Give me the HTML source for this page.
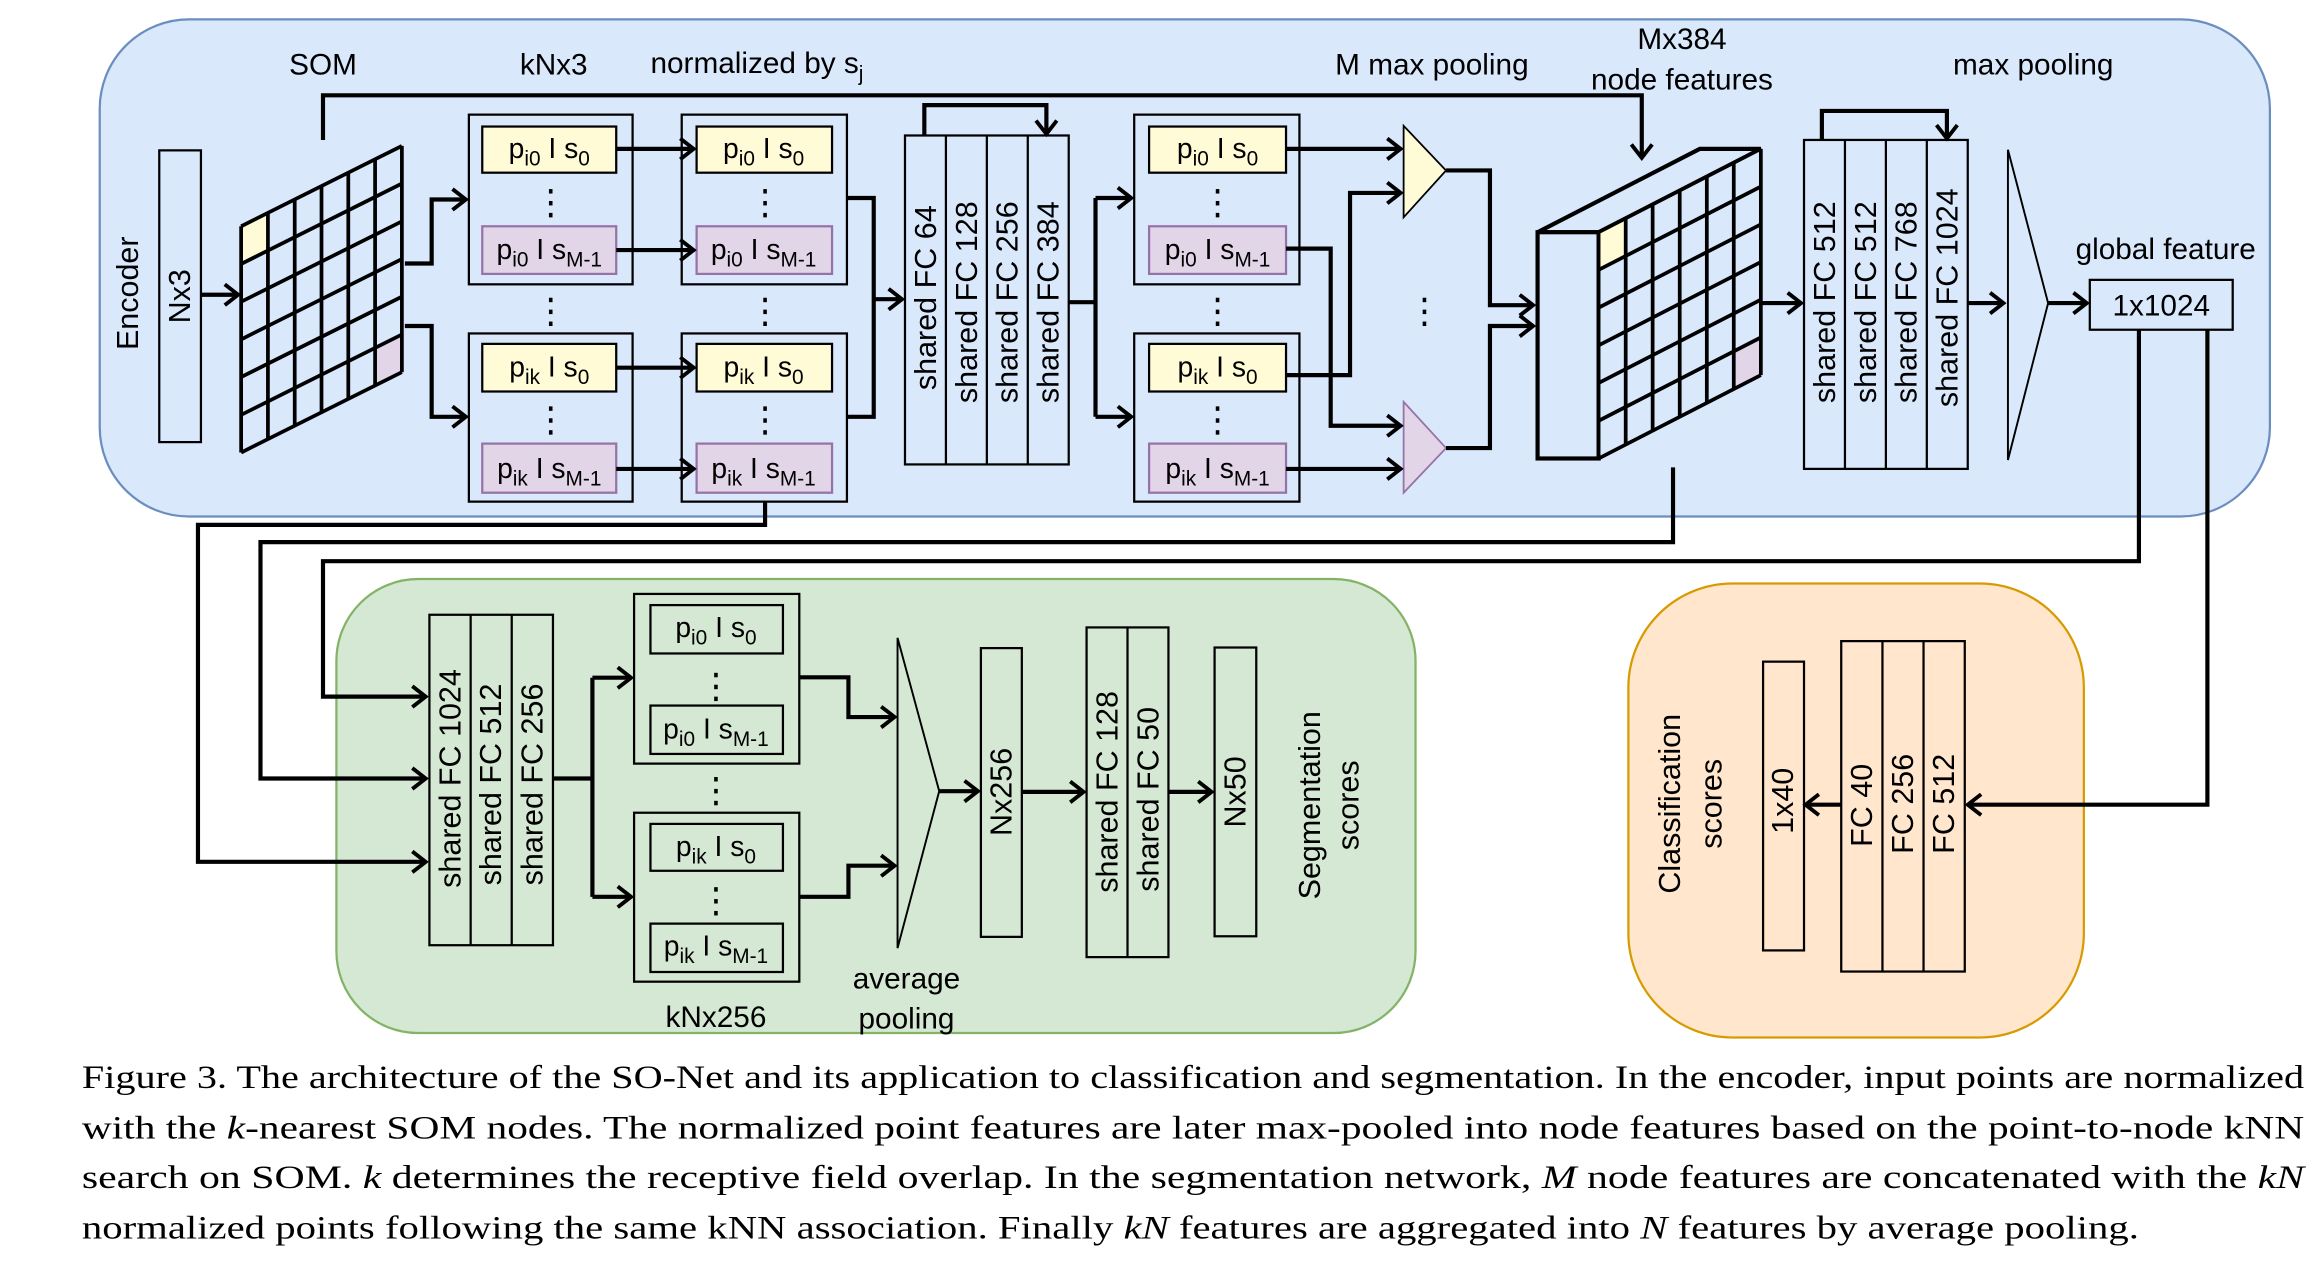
<!DOCTYPE html>
<html><head><meta charset="utf-8"><style>
html,body{margin:0;padding:0;background:#fff;}
svg{display:block;}
.t{font-family:"Liberation Sans",sans-serif;font-size:20px;fill:#000;}
.v{font-family:"Liberation Sans",sans-serif;font-size:20.5px;fill:#000;}
.c{font-family:"Liberation Serif","Times New Roman",serif;font-size:22px;fill:#000;}
.p{font-family:"Liberation Sans",sans-serif;font-size:19px;fill:#000;}
.ln{fill:none;stroke:#000;stroke-width:2.8;}
.bx{fill:none;stroke:#000;stroke-width:1.5;}
</style></head><body>
<svg width="2322" height="1266" viewBox="0 0 1560 850.5" xmlns="http://www.w3.org/2000/svg">
<defs>
<marker id="a" markerUnits="userSpaceOnUse" markerWidth="14" markerHeight="16" refX="11" refY="8" orient="auto">
<path d="M2,1 L11,8 L2,15" fill="none" stroke="#000" stroke-width="2.6"/>
</marker>
<g id="dt"><rect x="-1.2" y="0" width="2.4" height="3"/><rect x="-1.2" y="8" width="2.4" height="3"/><rect x="-1.2" y="16" width="2.4" height="3"/></g>
</defs>
<rect width="1560" height="850.5" fill="#fff"/>
<rect x="67" y="13" width="1458" height="334" rx="60" fill="#dae8fc" stroke="#6c8ebf" stroke-width="1.5"/>
<rect x="226" y="389" width="725" height="305" rx="55" fill="#d5e8d4" stroke="#82b366" stroke-width="1.5"/>
<rect x="1094" y="392" width="306" height="305" rx="70" fill="#ffe6cc" stroke="#d79b00" stroke-width="1.5"/>

<text class="t" x="217" y="50" text-anchor="middle">SOM</text>
<text class="t" x="372" y="50" text-anchor="middle">kNx3</text>
<text class="t" x="437" y="49">normalized by s<tspan font-size="14" dy="5">j</tspan></text>
<text class="t" x="962" y="50" text-anchor="middle">M max pooling</text>
<text class="t" x="1130" y="33" text-anchor="middle">Mx384</text>
<text class="t" x="1130" y="60" text-anchor="middle">node features</text>
<text class="t" x="1366" y="50" text-anchor="middle">max pooling</text>
<text class="t" x="1455" y="174" text-anchor="middle">global feature</text>
<text class="v" transform="translate(86,197) rotate(-90)" text-anchor="middle" dominant-baseline="central">Encoder</text>

<rect class="bx" x="107" y="101" width="28" height="196"/>
<text class="v" transform="translate(121,199) rotate(-90)" text-anchor="middle" dominant-baseline="central">Nx3</text>
<path class="ln" d="M135,198 H160" marker-end="url(#a)"/>

<polygon points="162,152 180,143 180,168.3 162,177.3" fill="#fffbd6"/>
<polygon points="252,233.7 270,224.7 270,250 252,259" fill="#e1d5e7"/>
<g stroke="#000" stroke-width="2.5" fill="none">
<path d="M162,152V304M180,143V295M198,134V286M216,125V277M234,116V268M252,107V259M270,98V250"/>
<path d="M162,152L270,98M162,177.3L270,123.3M162,202.7L270,148.7M162,228L270,174M162,253.3L270,199.3M162,278.7L270,224.7M162,304L270,250"/>
</g>
<path class="ln" d="M272,177 H290 V134 H313" marker-end="url(#a)"/>
<path class="ln" d="M272,219 H290 V280 H313" marker-end="url(#a)"/>

<g>
<rect class="bx" x="315" y="77" width="110" height="114"/>
<rect class="bx" x="315" y="224" width="110" height="113"/>
<rect class="bx" x="458" y="77" width="111" height="114"/>
<rect class="bx" x="458" y="224" width="111" height="113"/>
<rect class="bx" x="762" y="77" width="111" height="114"/>
<rect class="bx" x="762" y="224" width="111" height="113"/>
</g>
<g stroke-width="1.5">
<rect x="324" y="85" width="90" height="31" fill="#fffbd6" stroke="#000"/>
<rect x="324" y="152" width="90" height="32" fill="#e1d5e7" stroke="#9673a6"/>
<rect x="324" y="231" width="90" height="32" fill="#fffbd6" stroke="#000"/>
<rect x="324" y="298" width="90" height="33" fill="#e1d5e7" stroke="#9673a6"/>
<rect x="468" y="85" width="91" height="31" fill="#fffbd6" stroke="#000"/>
<rect x="468" y="152" width="91" height="32" fill="#e1d5e7" stroke="#9673a6"/>
<rect x="468" y="231" width="91" height="32" fill="#fffbd6" stroke="#000"/>
<rect x="468" y="298" width="91" height="33" fill="#e1d5e7" stroke="#9673a6"/>
<rect x="772" y="85" width="92" height="31" fill="#fffbd6" stroke="#000"/>
<rect x="772" y="152" width="92" height="32" fill="#e1d5e7" stroke="#9673a6"/>
<rect x="772" y="231" width="92" height="32" fill="#fffbd6" stroke="#000"/>
<rect x="772" y="298" width="92" height="33" fill="#e1d5e7" stroke="#9673a6"/>
</g>
<g class="p" text-anchor="middle">
<text x="369" y="106">p<tspan font-size="14" dy="5">i0</tspan><tspan dy="-5"> I s</tspan><tspan font-size="14" dy="5">0</tspan></text>
<text x="369" y="174">p<tspan font-size="14" dy="5">i0</tspan><tspan dy="-5"> I s</tspan><tspan font-size="14" dy="5">M-1</tspan></text>
<text x="369" y="253">p<tspan font-size="14" dy="5">ik</tspan><tspan dy="-5"> I s</tspan><tspan font-size="14" dy="5">0</tspan></text>
<text x="369" y="321">p<tspan font-size="14" dy="5">ik</tspan><tspan dy="-5"> I s</tspan><tspan font-size="14" dy="5">M-1</tspan></text>
<text x="513" y="106">p<tspan font-size="14" dy="5">i0</tspan><tspan dy="-5"> I s</tspan><tspan font-size="14" dy="5">0</tspan></text>
<text x="513" y="174">p<tspan font-size="14" dy="5">i0</tspan><tspan dy="-5"> I s</tspan><tspan font-size="14" dy="5">M-1</tspan></text>
<text x="513" y="253">p<tspan font-size="14" dy="5">ik</tspan><tspan dy="-5"> I s</tspan><tspan font-size="14" dy="5">0</tspan></text>
<text x="513" y="321">p<tspan font-size="14" dy="5">ik</tspan><tspan dy="-5"> I s</tspan><tspan font-size="14" dy="5">M-1</tspan></text>
<text x="818" y="106">p<tspan font-size="14" dy="5">i0</tspan><tspan dy="-5"> I s</tspan><tspan font-size="14" dy="5">0</tspan></text>
<text x="818" y="174">p<tspan font-size="14" dy="5">i0</tspan><tspan dy="-5"> I s</tspan><tspan font-size="14" dy="5">M-1</tspan></text>
<text x="818" y="253">p<tspan font-size="14" dy="5">ik</tspan><tspan dy="-5"> I s</tspan><tspan font-size="14" dy="5">0</tspan></text>
<text x="818" y="321">p<tspan font-size="14" dy="5">ik</tspan><tspan dy="-5"> I s</tspan><tspan font-size="14" dy="5">M-1</tspan></text>
</g>
<g fill="#000">
<use href="#dt" x="370" y="127"/><use href="#dt" x="514" y="127"/><use href="#dt" x="818" y="127"/>
<use href="#dt" x="370" y="200"/><use href="#dt" x="514" y="200"/><use href="#dt" x="818" y="200"/>
<use href="#dt" x="370" y="273"/><use href="#dt" x="514" y="273"/><use href="#dt" x="818" y="273"/>
<use href="#dt" x="957" y="200"/>
<use href="#dt" x="481" y="452"/><use href="#dt" x="481" y="522"/><use href="#dt" x="481" y="596"/>
</g>
<path class="ln" d="M414,100H466" marker-end="url(#a)"/>
<path class="ln" d="M414,168H466" marker-end="url(#a)"/>
<path class="ln" d="M414,247H466" marker-end="url(#a)"/>
<path class="ln" d="M414,315H466" marker-end="url(#a)"/>

<path class="ln" d="M569,133H587V280H569"/>
<path class="ln" d="M587,201H606" marker-end="url(#a)"/>
<rect class="bx" x="608" y="91" width="110" height="221"/>
<path class="bx" d="M635.5,91V312M663,91V312M690.5,91V312"/>
<g class="v" text-anchor="middle" dominant-baseline="central">
<text transform="translate(622,200) rotate(-90)">shared FC 64</text>
<text transform="translate(649.5,203) rotate(-90)">shared FC 128</text>
<text transform="translate(677,203) rotate(-90)">shared FC 256</text>
<text transform="translate(704.5,203) rotate(-90)">shared FC 384</text>
</g>
<path class="ln" d="M621,91V70.6H703V90" marker-end="url(#a)"/>
<path class="ln" d="M217,94V64H1103V106" marker-end="url(#a)"/>
<path class="ln" d="M718,203H736"/>
<path class="ln" d="M736,133V280"/>
<path class="ln" d="M736,133H760" marker-end="url(#a)"/>
<path class="ln" d="M736,280H760" marker-end="url(#a)"/>

<polygon points="943,84.5 971.5,114.5 943,146" fill="#fffbd6" stroke="#000" stroke-width="1.2"/>
<polygon points="943,270 971.5,301 943,331" fill="#e1d5e7" stroke="#9673a6" stroke-width="1.2"/>
<path class="ln" d="M864,100H941" marker-end="url(#a)"/>
<path class="ln" d="M864,315H941" marker-end="url(#a)"/>
<path class="ln" d="M864,167H894V286H941" marker-end="url(#a)"/>
<path class="ln" d="M864,252H907V129.6H941" marker-end="url(#a)"/>
<path class="ln" d="M971.5,114.5H1001V205H1030" marker-end="url(#a)"/>
<path class="ln" d="M971.5,301H1001V219H1030" marker-end="url(#a)"/>

<polygon points="1033,156 1142,100 1183,100 1074,156" fill="#dae8fc" stroke="#000" stroke-width="2.8"/>
<rect x="1033" y="156" width="41" height="152" fill="#dae8fc" stroke="#000" stroke-width="2.8"/>
<polygon points="1074,156 1183,100 1183,253 1074,308" fill="#dae8fc"/>
<polygon points="1074,156 1092.2,146.7 1092.2,172 1074,181.3" fill="#fffbd6"/>
<polygon points="1164.8,235.3 1183,226 1183,252 1164.8,261.3" fill="#e1d5e7"/>
<g stroke="#000" stroke-width="2.5" fill="none">
<path d="M1074,156V308M1092.2,146.7V298.7M1110.3,137.3V289.3M1128.5,128V280M1146.7,118.7V270.7M1164.8,109.3V261.3M1183,100V252"/>
<path d="M1074,156L1183,100M1074,181.3L1183,125.3M1074,206.7L1183,150.7M1074,232L1183,176M1074,257.3L1183,201.3M1074,282.7L1183,226.7M1074,308L1183,252"/>
</g>
<path class="ln" d="M1183,203.6H1210" marker-end="url(#a)"/>
<rect class="bx" x="1212" y="94" width="110" height="221"/>
<path class="bx" d="M1239.5,94V315M1267,94V315M1294.5,94V315"/>
<g class="v" text-anchor="middle" dominant-baseline="central">
<text transform="translate(1226,203) rotate(-90)">shared FC 512</text>
<text transform="translate(1253.5,203) rotate(-90)">shared FC 512</text>
<text transform="translate(1281,203) rotate(-90)">shared FC 768</text>
<text transform="translate(1308.5,200) rotate(-90)">shared FC 1024</text>
</g>
<path class="ln" d="M1224,94V74.5H1308V93" marker-end="url(#a)"/>
<path class="ln" d="M1322,203.6H1346" marker-end="url(#a)"/>
<polygon points="1349,100.6 1376,203.6 1349,309" fill="none" stroke="#000" stroke-width="1.3"/>
<path class="ln" d="M1376,203.6H1402" marker-end="url(#a)"/>
<rect class="bx" x="1404" y="188" width="96" height="33.5" fill="#dae8fc"/>
<text class="t" x="1452" y="212" text-anchor="middle">1x1024</text>

<path class="ln" d="M514,337V352.6H133V579H286" marker-end="url(#a)"/>
<path class="ln" d="M1124,314V364.2H175V523H286" marker-end="url(#a)"/>
<path class="ln" d="M1437,221.5V377H217V468H286" marker-end="url(#a)"/>
<path class="ln" d="M1483,221.5V540.6H1322" marker-end="url(#a)"/>

<rect class="bx" x="288.5" y="413" width="83" height="222"/>
<path class="bx" d="M316.2,413V635M343.8,413V635"/>
<g class="v" text-anchor="middle" dominant-baseline="central">
<text transform="translate(302.5,523) rotate(-90)">shared FC 1024</text>
<text transform="translate(330,527) rotate(-90)">shared FC 512</text>
<text transform="translate(357.7,527) rotate(-90)">shared FC 256</text>
</g>
<path class="ln" d="M371.5,523H398"/>
<path class="ln" d="M398,455.3V602.5"/>
<path class="ln" d="M398,455.3H424" marker-end="url(#a)"/>
<path class="ln" d="M398,602.5H424" marker-end="url(#a)"/>
<rect class="bx" x="426" y="399" width="111" height="114"/>
<rect class="bx" x="426" y="546" width="111" height="113.5"/>
<rect class="bx" x="437" y="406.5" width="89" height="32.5"/>
<rect class="bx" x="437" y="474" width="89" height="32.5"/>
<rect class="bx" x="437" y="553.5" width="89" height="31.5"/>
<rect class="bx" x="437" y="620.5" width="89" height="32.5"/>
<g class="p" text-anchor="middle">
<text x="481" y="428">p<tspan font-size="14" dy="5">i0</tspan><tspan dy="-5"> I s</tspan><tspan font-size="14" dy="5">0</tspan></text>
<text x="481" y="496">p<tspan font-size="14" dy="5">i0</tspan><tspan dy="-5"> I s</tspan><tspan font-size="14" dy="5">M-1</tspan></text>
<text x="481" y="575">p<tspan font-size="14" dy="5">ik</tspan><tspan dy="-5"> I s</tspan><tspan font-size="14" dy="5">0</tspan></text>
<text x="481" y="642">p<tspan font-size="14" dy="5">ik</tspan><tspan dy="-5"> I s</tspan><tspan font-size="14" dy="5">M-1</tspan></text>
</g>
<text class="t" x="481" y="690" text-anchor="middle">kNx256</text>
<text class="t" x="609" y="664" text-anchor="middle">average</text>
<text class="t" x="609" y="691" text-anchor="middle">pooling</text>
<path class="ln" d="M537,455H570V481.7H601" marker-end="url(#a)"/>
<path class="ln" d="M537,602.5H570V581.6H601" marker-end="url(#a)"/>
<polygon points="603,428.5 631,531.5 603,637" fill="none" stroke="#000" stroke-width="1.3"/>
<path class="ln" d="M631,531.5H657" marker-end="url(#a)"/>
<rect class="bx" x="659" y="435.4" width="27.5" height="194"/>
<text class="v" transform="translate(673,532) rotate(-90)" text-anchor="middle" dominant-baseline="central">Nx256</text>
<path class="ln" d="M686.5,532H728" marker-end="url(#a)"/>
<rect class="bx" x="730" y="421.5" width="55" height="221.5"/>
<path class="bx" d="M757.5,421.5V643"/>
<g class="v" text-anchor="middle" dominant-baseline="central">
<text transform="translate(744,532) rotate(-90)">shared FC 128</text>
<text transform="translate(771.5,537) rotate(-90)">shared FC 50</text>
</g>
<path class="ln" d="M785,532H814" marker-end="url(#a)"/>
<rect class="bx" x="816" y="435" width="28" height="194"/>
<text class="v" transform="translate(830,532) rotate(-90)" text-anchor="middle" dominant-baseline="central">Nx50</text>
<g class="v" text-anchor="middle" dominant-baseline="central">
<text transform="translate(880,541) rotate(-90)">Segmentation</text>
<text transform="translate(906,541) rotate(-90)">scores</text>
</g>

<rect class="bx" x="1184.5" y="444.5" width="27.5" height="194"/>
<text class="v" transform="translate(1198,538) rotate(-90)" text-anchor="middle" dominant-baseline="central">1x40</text>
<rect class="bx" x="1237" y="430.7" width="83" height="222"/>
<path class="bx" d="M1264.7,430.7V652.7M1292.3,430.7V652.7"/>
<g class="v" text-anchor="middle" dominant-baseline="central">
<text transform="translate(1251,541) rotate(-90)">FC 40</text>
<text transform="translate(1278.5,540) rotate(-90)">FC 256</text>
<text transform="translate(1306.2,540) rotate(-90)">FC 512</text>
</g>
<path class="ln" d="M1237,540.6H1213" marker-end="url(#a)"/>
<g class="v" text-anchor="middle" dominant-baseline="central">
<text transform="translate(1122,540) rotate(-90)">Classification</text>
<text transform="translate(1150,540) rotate(-90)">scores</text>
</g>

<text class="c" x="55" y="731" textLength="1493" lengthAdjust="spacingAndGlyphs">Figure 3. The architecture of the SO-Net and its application to classification and segmentation. In the encoder, input points are normalized</text>
<text class="c" x="55" y="765" textLength="1493" lengthAdjust="spacingAndGlyphs">with the <tspan font-style="italic">k</tspan>-nearest SOM nodes.  The normalized point features are later max-pooled into node features based on the point-to-node kNN</text>
<text class="c" x="55" y="798" textLength="1493" lengthAdjust="spacingAndGlyphs">search on SOM. <tspan font-style="italic">k</tspan> determines the receptive field overlap.  In the segmentation network, <tspan font-style="italic">M</tspan> node features are concatenated with the <tspan font-style="italic">kN</tspan></text>
<text class="c" x="55" y="832" textLength="1382" lengthAdjust="spacingAndGlyphs">normalized points following the same kNN association. Finally <tspan font-style="italic">kN</tspan> features are aggregated into <tspan font-style="italic">N</tspan> features by average pooling.</text>
</svg>
</body></html>
